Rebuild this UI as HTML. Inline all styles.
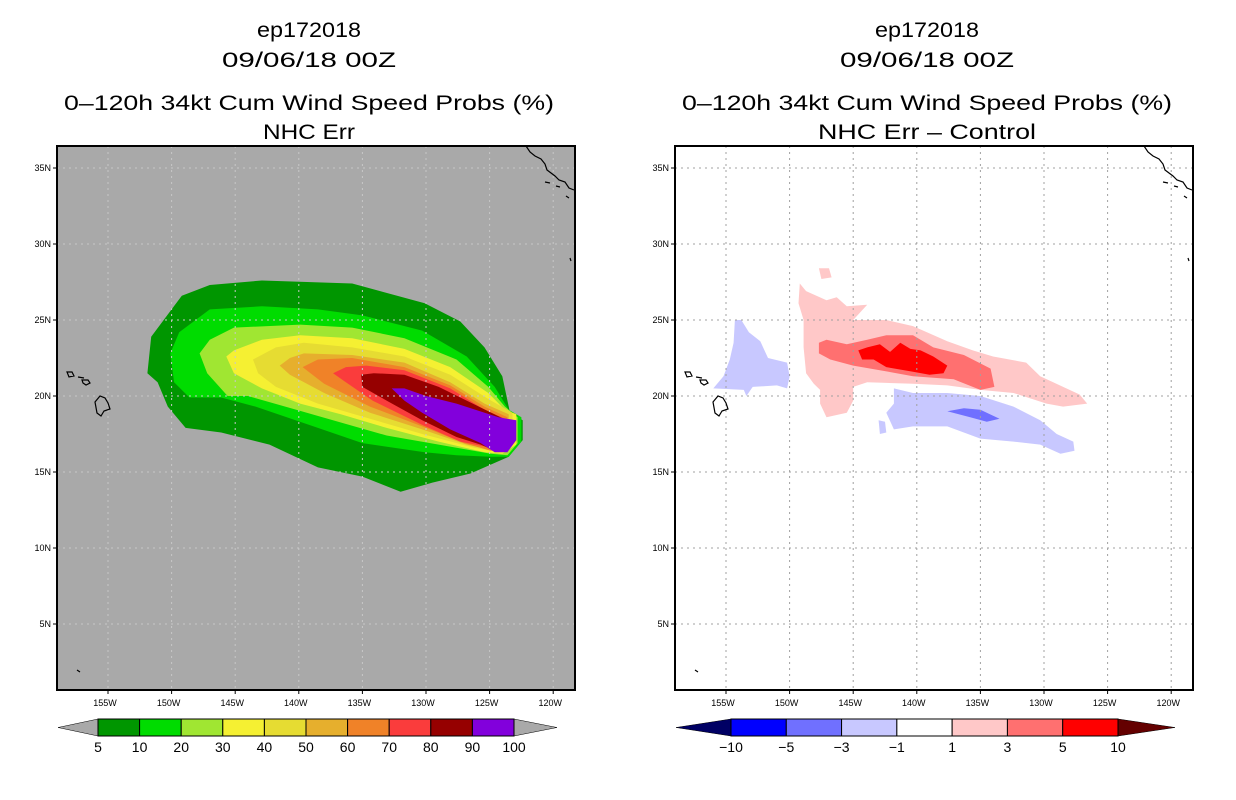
<!DOCTYPE html>
<html><head><meta charset="utf-8"><style>
html,body{margin:0;padding:0;background:#fff;}
svg{display:block;font-family:"Liberation Sans","DejaVu Sans",sans-serif;}
</style></head><body>
<svg id="fig" width="1236" height="800" viewBox="0 0 1236 800" xmlns="http://www.w3.org/2000/svg">
<rect x="0" y="0" width="1236" height="800" fill="#fff"/>
<g font-size="21" text-anchor="middle" fill="#000">
<text x="309" y="37" textLength="104" lengthAdjust="spacingAndGlyphs">ep172018</text>
<text x="309" y="67" textLength="174" lengthAdjust="spacingAndGlyphs">09/06/18 00Z</text>
<text x="309" y="110" textLength="490" lengthAdjust="spacingAndGlyphs">0–120h 34kt Cum Wind Speed Probs (%)</text>
<text x="309" y="139" textLength="92" lengthAdjust="spacingAndGlyphs">NHC Err</text>
</g>
<g font-size="21" text-anchor="middle" fill="#000">
<text x="927" y="37" textLength="104" lengthAdjust="spacingAndGlyphs">ep172018</text>
<text x="927" y="67" textLength="174" lengthAdjust="spacingAndGlyphs">09/06/18 00Z</text>
<text x="927" y="110" textLength="490" lengthAdjust="spacingAndGlyphs">0–120h 34kt Cum Wind Speed Probs (%)</text>
<text x="927" y="139" textLength="218" lengthAdjust="spacingAndGlyphs">NHC Err – Control</text>
</g>
</svg>
<script>
// ---- data ----
const latTicks=[35,30,25,20,15,10,5];
const lonTicks=[155,150,145,140,135,130,125,120];
const probLevels=["5","10","20","30","40","50","60","70","80","90","100"];
const probColors=["#009600","#00dc00","#a0e632","#f5f032","#e6dc32","#e6af2d","#f08228","#fa3c3c","#960000","#8200dc"];
const diffLevels=["−10","−5","−3","−1","1","3","5","10"];
const diffColors=["#000064","#0000ff","#7070ff","#c8c8ff","#ffffff","#ffc8c8","#ff7070","#ff0000","#640000"];
// contour polygons: [lonW, lat]
const p5=[[151.9,21.5],[151.6,23.9],[150.0,25.7],[149.2,26.6],[147.0,27.3],[142.9,27.6],[135.8,27.4],[130.1,26.1],[127.3,24.9],[125.4,23.2],[124.0,21.3],[123.4,18.9],[122.4,18.4],[122.4,17.1],[123.5,16.0],[126.5,14.9],[129.5,14.3],[132.0,13.7],[135.0,14.7],[138.5,15.3],[142.3,16.8],[146.1,17.6],[148.9,17.9],[150.3,19.3],[151.1,20.9]];
const p10=[[150.1,22.8],[149.4,24.2],[147.0,25.7],[142.9,25.9],[138.5,25.7],[135.0,25.3],[130.3,24.3],[126.8,22.6],[124.6,20.6],[123.5,19.1],[122.5,18.6],[122.5,17.0],[123.5,16.0],[124.9,16.0],[127.6,16.1],[130.1,16.3],[135.0,16.9],[138.5,17.9],[143.4,19.3],[146.1,19.9],[148.6,19.9],[149.8,20.9]];
const p20=[[147.8,22.8],[147.0,23.7],[145.1,24.5],[139.9,24.7],[135.8,24.5],[131.7,23.8],[127.6,22.4],[125.1,20.6],[123.8,19.3],[122.8,18.6],[122.8,16.9],[123.6,16.1],[124.9,16.2],[129.0,16.8],[133.1,17.4],[136.9,18.3],[140.2,19.1],[144.0,20.0],[145.6,20.0],[147.2,21.5]];
const p30=[[145.7,22.6],[145.1,23.0],[142.9,23.7],[139.9,24.0],[135.8,23.8],[131.7,23.1],[128.1,21.9],[125.1,20.2],[123.8,19.1],[122.9,18.8],[122.9,16.8],[124.0,16.2],[125.4,16.3],[129.0,17.0],[133.1,17.9],[136.7,18.8],[139.9,19.5],[142.9,20.5],[145.1,21.5]];
const p40=[[143.6,22.4],[141.8,23.2],[139.6,23.5],[135.8,23.2],[131.7,22.6],[128.1,21.4],[125.1,19.8],[123.2,18.9],[123.2,16.7],[124.3,16.3],[126.2,16.6],[130.3,17.5],[134.4,18.5],[138.5,19.5],[141.8,20.6],[143.2,21.5]];
const p50=[[141.5,22.0],[140.7,22.5],[139.6,22.8],[135.8,22.7],[131.7,22.2],[128.1,20.9],[125.4,19.5],[123.5,18.8],[123.5,16.6],[124.6,16.4],[126.8,16.8],[130.3,17.8],[134.4,18.9],[138.0,20.2],[140.7,21.4]];
const p60=[[139.7,21.9],[138.5,22.4],[135.8,22.5],[131.7,21.9],[128.1,20.7],[125.4,19.3],[123.6,18.6],[123.6,16.7],[124.9,16.4],[127.0,16.9],[130.3,18.0],[134.4,19.3],[138.0,20.8]];
const p70=[[137.3,21.5],[136.3,21.9],[134.7,22.0],[131.7,21.7],[128.1,20.5],[125.4,19.1],[123.8,18.5],[123.8,16.8],[124.9,16.6],[127.3,17.0],[130.3,18.1],[134.2,19.7],[136.3,20.9]];
const p80=[[135.1,21.4],[134.1,21.5],[131.7,21.4],[129.0,20.6],[125.1,19.0],[123.9,18.5],[123.9,16.8],[124.6,16.4],[125.7,16.8],[127.6,17.3],[130.3,18.4],[133.1,19.7],[135.0,20.6]];
const p90=[[132.7,20.5],[131.7,20.5],[130.0,20.0],[127.6,19.5],[124.3,18.6],[122.9,18.4],[122.9,17.1],[123.6,16.3],[124.6,16.3],[125.7,16.9],[128.1,17.8],[130.3,18.9],[131.7,19.7]];
const d1=[[149.2,27.4],[148.7,26.9],[147.1,26.3],[146.3,26.5],[145.5,25.9],[143.9,26.0],[145.0,25.0],[142.4,25.0],[140.3,24.6],[137.6,23.6],[135.6,23.0],[134.0,22.6],[131.4,22.2],[130.3,21.3],[128.5,20.6],[127.2,20.1],[126.6,19.5],[128.5,19.3],[129.8,19.5],[132.4,20.2],[135.0,20.4],[137.6,20.7],[140.3,20.8],[143.9,20.9],[145.0,20.6],[145.0,19.7],[145.5,18.9],[147.1,18.6],[147.6,19.5],[147.6,20.4],[148.1,20.8],[148.7,21.5],[148.9,23.2],[148.9,25.0],[149.3,26.1]];
const d1b=[[147.7,28.4],[146.9,28.4],[146.7,27.8],[147.5,27.7]];
const d3=[[147.7,23.5],[147.1,23.7],[145.5,23.4],[143.9,23.7],[142.4,24.0],[140.3,24.0],[138.7,23.2],[136.3,22.7],[134.2,21.8],[133.9,20.6],[135.0,20.4],[137.1,21.1],[140.3,21.3],[142.9,21.7],[145.0,22.0],[146.8,22.4],[147.7,22.8]];
const d5=[[144.6,23.0],[143.9,23.2],[142.9,23.4],[142.1,22.9],[141.3,23.5],[140.5,23.1],[139.7,23.0],[138.7,22.6],[137.6,22.0],[137.9,21.5],[139.0,21.4],[140.3,21.6],[142.4,21.9],[143.4,22.4],[144.3,22.4]];
const dm1a=[[154.3,25.0],[153.8,25.0],[153.2,24.2],[152.3,23.6],[151.7,22.5],[150.2,22.2],[150.0,21.3],[150.2,20.5],[151.0,20.7],[152.9,20.6],[153.4,20.0],[153.6,20.4],[156.0,20.5],[155.2,21.3],[154.7,22.4],[154.4,23.5]];
const dm1b=[[141.8,20.5],[140.3,20.2],[137.6,20.2],[135.0,20.0],[132.4,19.3],[130.3,18.4],[129.0,17.5],[127.7,17.0],[127.6,16.4],[128.7,16.2],[130.3,16.8],[132.4,17.0],[135.0,17.2],[137.6,18.0],[140.3,18.0],[141.8,17.8],[142.4,18.9],[141.8,19.5]];
const dm1c=[[143.0,18.4],[142.5,18.3],[142.4,17.6],[142.9,17.5]];
const dm3=[[137.6,19.0],[136.3,19.2],[135.0,19.1],[133.5,18.5],[134.5,18.3],[135.8,18.6]];
const probLayers=[p5,p10,p20,p30,p40,p50,p60,p70,p80,p90];
const diffLayers=[[d1,5],[d1b,5],[d3,6],[d5,7],[dm1a,3],[dm1b,3],[dm1c,3],[dm3,2]];

// ---- axes ----
const PX0=[57,675], PW=518, PY0=146, PH=544;
function xOf(p,lonW){return PX0[p]+51+(155-lonW)*12.72;}
function yOf(lat){return 320+(25-lat)*15.2;}
const NS="http://www.w3.org/2000/svg";
const svg=document.getElementById('fig');
function mk(tag,attrs,parent){const e=document.createElementNS(NS,tag);for(const k in attrs)e.setAttribute(k,attrs[k]);(parent||svg).appendChild(e);return e;}
function ptsOf(p,poly){return poly.map(q=>xOf(p,q[0]).toFixed(1)+','+yOf(q[1]).toFixed(1)).join(' ');}

for(let p=0;p<2;p++){
  const g=mk('g',{});
  
  
  const cp=mk('clipPath',{id:'clip'+p},g);
  mk('rect',{x:PX0[p],y:PY0,width:PW,height:PH},cp);
  const bg=mk('rect',{x:PX0[p],y:PY0,width:PW,height:PH,fill:p?'#fff':'#a9a9a9'},g);
  
  
  const cg=mk('g',{'clip-path':'url(#clip'+p+')'},g);
  if(p===0){
    probLayers.forEach((poly,i)=>{
      const e=mk('polygon',{points:ptsOf(p,poly),fill:probColors[i]},cg);
      
      
    });
  } else {
    diffLayers.forEach(([poly,ci],i)=>{
      const e=mk('polygon',{points:ptsOf(p,poly),fill:diffColors[ci]},cg);
      
      
    });
  }
  const gc=p?'#a0a0a0':'#c8c8c8';
  lonTicks.forEach(l=>{const x=xOf(p,l);
    const e=mk('line',{x1:x,y1:PY0,x2:x,y2:PY0+PH,stroke:gc,'stroke-width':1,'stroke-dasharray':'2,4'},cg);
    
    
    mk('line',{x1:x,y1:PY0+PH,x2:x,y2:PY0+PH+4,stroke:'#000','stroke-width':1},g);
    const t=mk('text',{x:x-3,y:PY0+PH+16,'font-size':9,'text-anchor':'middle',fill:'#000'},g);
    t.textContent=l+'W';
    
    
  });
  latTicks.forEach(l=>{const y=yOf(l);
    const e=mk('line',{x1:PX0[p],y1:y,x2:PX0[p]+PW,y2:y,stroke:gc,'stroke-width':1,'stroke-dasharray':'2,4'},cg);
    
    
    mk('line',{x1:PX0[p]-4,y1:y,x2:PX0[p],y2:y,stroke:'#000','stroke-width':1},g);
    const t=mk('text',{x:PX0[p]-6,y:y+3,'font-size':9,'text-anchor':'end',fill:'#000'},g);
    t.textContent=l+'N';
    
    
  });
  const o=p*618;
  const coast=mk('g',{fill:'none',stroke:'#000','stroke-width':1.2},g);
  
  
  mk('path',{d:`M${95+o},402 l5,-6 l5,2 l3,5 l2,6 l-6,2 l-3,5 l-4,-3 z M${67+o},372 l5,0 l2,4 l-5,1 z M${78+o},377 l6,1 M${82+o},380 l6,0 l2,3 l-4,2 l-3,-2 z M${77+o},670 l3,2`},coast);
  mk('path',{d:`M${526+o},146 l4,6 l5,4 l6,3 l4,5 l2,6 l8,6 l4,4 l6,2 l4,6 l5,2 M${545+o},182 l5,1 M${556+o},186 l4,1 M${566+o},196 l3,2 M${570+o},258 l1,3`},coast);
  const fr=mk('rect',{x:PX0[p],y:PY0,width:PW,height:PH,fill:'none',stroke:'#000','stroke-width':2},g);
  
  
}

// ---- colorbars ----
function colorbar(x0,x1,tipL,tipR,colors,labels,endL,endR,name){
  const g=mk('g',{});
  
  
  const y0=719,y1=736,ym=(y0+y1)/2,n=colors.length,w=(x1-x0)/n;
  const a=mk('polygon',{points:`${tipL},${ym} ${x0},${y0} ${x0},${y1}`,fill:endL,stroke:'#000','stroke-width':0.5},g);
  
  
  const b=mk('polygon',{points:`${tipR},${ym} ${x1},${y0} ${x1},${y1}`,fill:endR,stroke:'#000','stroke-width':0.5},g);
  
  
  colors.forEach((c,i)=>{
    const r=mk('rect',{x:x0+i*w,y:y0,width:w,height:y1-y0,fill:c,stroke:'#000','stroke-width':1},g);
    
    
  });
  labels.forEach((l,i)=>{
    const t=mk('text',{x:x0+i*w,y:752,'font-size':14,'text-anchor':'middle',fill:'#000'},g);
    t.textContent=l;
    
    
  });
}
colorbar(98,514,58,557,probColors,probLevels,'#a9a9a9','#a9a9a9','prob-colorbar');
colorbar(731,1118,676,1175,diffColors.slice(1,8),diffLevels,diffColors[0],diffColors[8],'diff-colorbar');
</script>
</body></html>
